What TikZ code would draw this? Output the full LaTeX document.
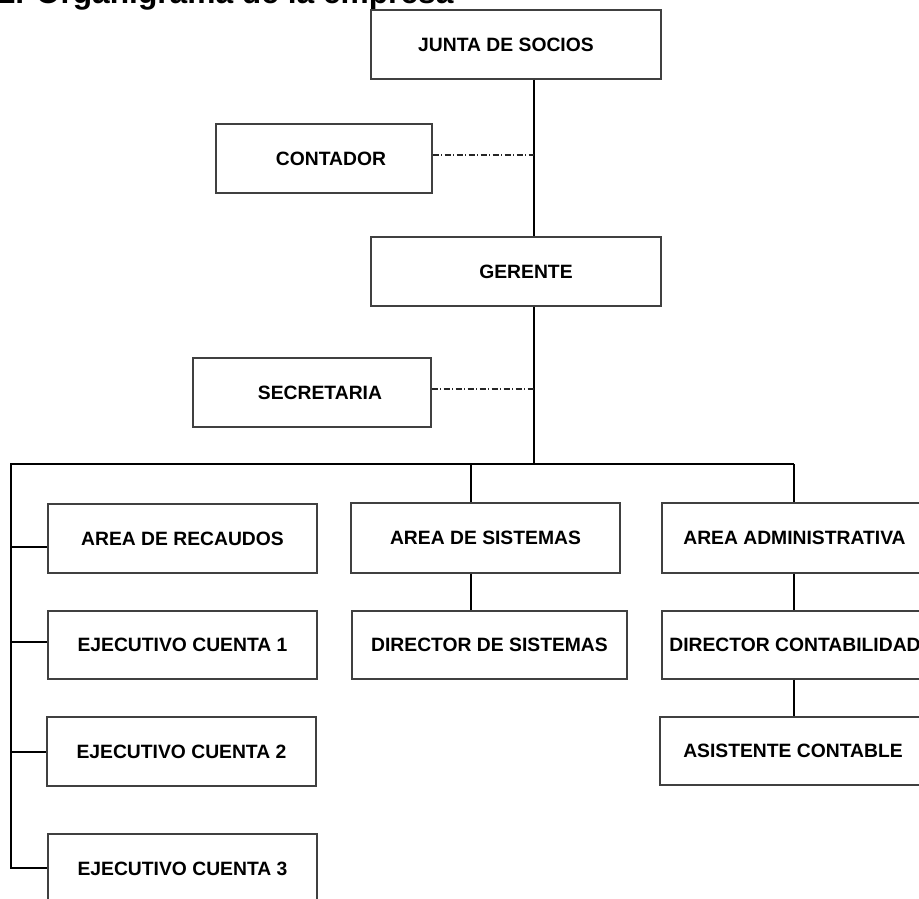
\documentclass[tikz,border=0pt]{standalone}
\usepackage{fontspec}
\setmainfont{Liberation Sans}
\begin{document}
\begin{tikzpicture}[x=1pt,y=-1pt,
  orgbox/.style={draw=black!75, line width=1.4pt, rectangle, inner sep=0pt,
    font=\fontsize{19.3}{22}\selectfont\bfseries, align=center},
  conn/.style={draw=black, line width=1.2pt},
  dashdotline/.style={draw=black!85, line width=1.1pt, dash pattern=on 6pt off 2.5pt on 1pt off 2.5pt}]
\useasboundingbox (0,0) rectangle (919,899);
\clip (0,0) rectangle (919,899);
% title
\node[anchor=base west, inner sep=0pt, font=\fontsize{31.7}{36}\selectfont\bfseries] (title) at (-2.5,3.5) {1. Organigrama de la empresa};
% boxes
\node[orgbox, minimum width=290pt, minimum height=69pt] (junta) at (516,44.5) {JUNTA DE SOCIOS\hspace*{20pt}};
\node[orgbox, minimum width=216pt, minimum height=69pt] (contador) at (324,158.5) {\hspace*{14pt}CONTADOR};
\node[orgbox, minimum width=290pt, minimum height=69pt] (gerente) at (516,271.5) {\hspace*{20pt}GERENTE};
\node[orgbox, minimum width=238pt, minimum height=69pt] (secretaria) at (312,392.5) {\hspace*{16pt}SECRETARIA};
\node[orgbox, minimum width=269pt, minimum height=69pt] (recaudos) at (182.5,538.5) {AREA DE RECAUDOS};
\node[orgbox, minimum width=269pt, minimum height=68pt] (ej1) at (182.5,645) {EJECUTIVO CUENTA 1};
\node[orgbox, minimum width=269pt, minimum height=69pt] (ej2) at (181.5,751.5) {EJECUTIVO CUENTA 2};
\node[orgbox, minimum width=269pt, minimum height=70pt] (ej3) at (182.5,869) {EJECUTIVO CUENTA 3};
\node[orgbox, minimum width=269pt, minimum height=70pt] (sistemas) at (485.5,538) {AREA DE SISTEMAS};
\node[orgbox, minimum width=275pt, minimum height=68pt] (dirsis) at (489.5,645) {DIRECTOR DE SISTEMAS};
\node[orgbox, minimum width=265pt, minimum height=70pt] (admin) at (794.5,538) {AREA ADMINISTRATIVA};
\node[orgbox, minimum width=276pt, minimum height=68pt] (dircont) at (800,645) {DIRECTOR CONTABILIDAD\hspace*{10pt}};
\node[orgbox, minimum width=266pt, minimum height=68pt] (asistente) at (793,751) {ASISTENTE CONTABLE};
% coordinates
\coordinate (busG) at (534,464);
\coordinate (busL) at (11,464);
\coordinate (busM) at (471,464);
\coordinate (busR) at (794,464);
\coordinate (d1) at (534,155);
\coordinate (d2) at (534,389);
\coordinate (s1) at (11,547);
\coordinate (s2) at (11,642);
\coordinate (s3) at (11,752);
\coordinate (s4) at (11,868);
% connectors
\draw[conn] (junta.south -| busG) -- (gerente.north -| busG);
\draw[conn] (gerente.south -| busG) -- (busG);
\draw[dashdotline] (d1 -| contador.east) -- (d1);
\draw[dashdotline] (d2 -| secretaria.east) -- (d2);
\draw[conn] (busR) -- (busL) -- (s4) -- (s4 -| ej3.west);
\draw[conn] (busR) -- (admin.north -| busR);
\draw[conn] (busM) -- (sistemas.north -| busM);
\draw[conn] (s1) -- (s1 -| recaudos.west);
\draw[conn] (s2) -- (s2 -| ej1.west);
\draw[conn] (s3) -- (s3 -| ej2.west);
\draw[conn] (sistemas.south -| busM) -- (dirsis.north -| busM);
\draw[conn] (admin.south -| busR) -- (dircont.north -| busR);
\draw[conn] (dircont.south -| busR) -- (asistente.north -| busR);
\end{tikzpicture}
\end{document}
